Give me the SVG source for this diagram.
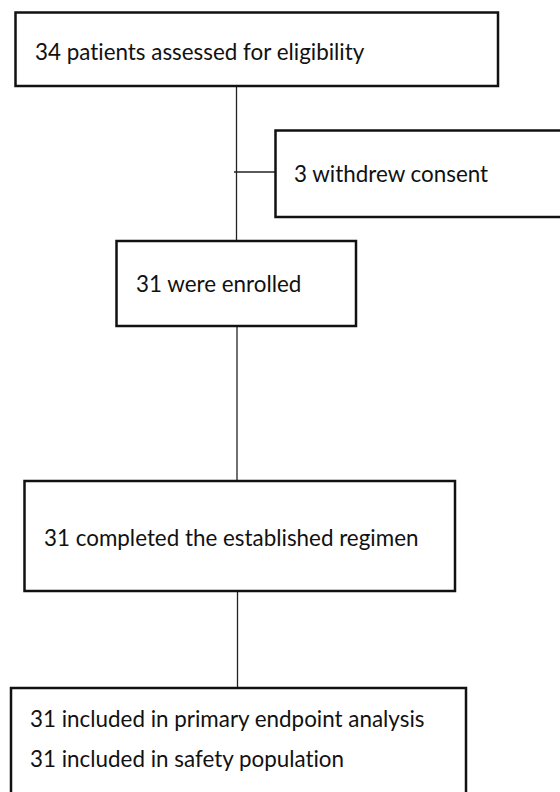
<svg xmlns="http://www.w3.org/2000/svg" width="560" height="792" viewBox="0 0 560 792">
<style>
.box{fill:#fff;stroke:#111;stroke-width:2.5}
.ln{stroke:#222;stroke-width:1.3;fill:none}
.t{font-family:Lato,"Open Sans",sans-serif;font-size:22.4px;fill:#111;font-variant-ligatures:none}
</style>
<rect width="560" height="792" fill="#fff"/>
<g id="connectors">
<line class="ln" x1="236.5" y1="86" x2="236.5" y2="241"/>
<line class="ln" x1="234" y1="172" x2="275" y2="172"/>
<line class="ln" x1="237" y1="326" x2="237" y2="481"/>
<line class="ln" x1="237.5" y1="591" x2="237.5" y2="688"/>
</g>
<g id="n1"><rect class="box" x="15.5" y="12.5" width="482.5" height="73.5"/><text class="t" x="35" y="60">34 patients assessed for eligibility</text></g>
<g id="n2"><rect class="box" x="275.5" y="130.5" width="290" height="86.5"/><text class="t" x="294" y="182">3 withdrew consent</text></g>
<g id="n3"><rect class="box" x="116.5" y="241" width="239.5" height="85"/><text class="t" x="136" y="292">31 were enrolled</text></g>
<g id="n4"><rect class="box" x="24.5" y="481" width="430.5" height="110"/><text class="t" x="44" y="546">31 completed the established regimen</text></g>
<g id="n5"><rect class="box" x="11" y="688" width="455" height="120"/><text class="t" x="30" y="727">31 included in primary endpoint analysis</text><text class="t" x="30" y="767">31 included in safety population</text></g>
</svg>
